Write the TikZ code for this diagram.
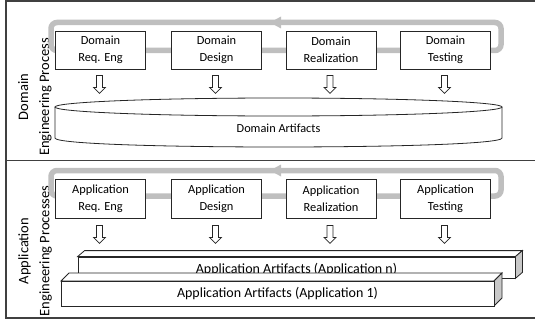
\documentclass[tikz,border=0pt]{standalone}
\usepackage{fontspec}
\setmainfont{Carlito}
\usetikzlibrary{calc}
\definecolor{loopgray}{HTML}{BFBFBF}
\definecolor{framec}{HTML}{404040}
\definecolor{sidegray}{HTML}{C8C8C8}
\begin{document}
\begin{tikzpicture}[x=1pt,y=-1pt,
 procbox/.style={draw=black!85, line width=0.8pt, fill=white, minimum width=90pt, minimum height=38pt, inner sep=0pt, align=center, font=\fontsize{12.4}{17}\selectfont},
 loopline/.style={draw=loopgray, line width=5.5pt, rounded corners=6pt},
 loophead/.style={fill=loopgray},
 frameline/.style={draw=framec, line width=1.1pt},
 sidelabel/.style={rotate=90, align=center, inner sep=0pt, font=\fontsize{14.5}{21}\selectfont},
 arrowline/.style={draw=black!85, line width=0.7pt, fill=white},
 boxline/.style={draw=black!85, line width=0.8pt},
 artface/.style={draw=black!85, line width=0.8pt, fill=white, inner sep=0pt, font=\fontsize{14}{16}\selectfont},
 arttext/.style={inner sep=0pt, font=\fontsize{14}{16}\selectfont},
 pics/downarrow/.style={code={\draw[arrowline] (-3,0) -- (-3,12) -- (-6,12) -- (0,18) -- (6,12) -- (3,12) -- (3,0) -- cycle;}}]

\useasboundingbox (0,0) rectangle (535,321);

% frame
\draw[frameline] (535,1) -- (6,1) -- (6,318) -- (535,318);
\draw[frameline] (6,160.5) -- (535,160.5);

% side labels
\node[sidelabel] (dlab) at (35,97) {Domain\\Engineering Process};
\node[sidelabel] (alab) at (35,251) {Application\\Engineering Processes};

% domain loop
\draw[loopline] (276,22.5) -- (51,22.5) -- (51,50.5) -- (501,50.5) -- (501,22.5) -- cycle;
\fill[loophead] (270,22.5) -- (281,16.5) -- (281,28.5) -- cycle;

% application loop
\draw[loopline] (276,170.5) -- (51,170.5) -- (51,196) -- (501,196) -- (501,170.5) -- cycle;
\fill[loophead] (270,170.5) -- (281,164.5) -- (281,176.5) -- cycle;

% domain process boxes
\node[procbox] (d1) at (100.5,50) {Domain\\Req. Eng};
\node[procbox] (d2) at (216.5,50) {Domain\\Design};
\node[procbox] (d3) at (331,50) {Domain\\Realization};
\node[procbox] (d4) at (445.5,50) {Domain\\Testing};

% application process boxes
\node[procbox, minimum height=39pt] (a1) at (100.5,198.5) {Application\\Req. Eng};
\node[procbox, minimum height=39pt] (a2) at (216.5,198.5) {Application\\Design};
\node[procbox, minimum height=39pt] (a3) at (331,198.5) {Application\\Realization};
\node[procbox, minimum height=39pt] (a4) at (445.5,198.5) {Application\\Testing};

% block arrows
\foreach \b in {d1,d2,d3,d4} {\path (\b.south) ++(-1,6) pic{downarrow};}
\foreach \b in {a1,a2,a3,a4} {\path (\b.south) ++(-1,7) pic{downarrow};}

% domain artifacts cylinder
\draw[boxline, fill=white] (55,107) -- (55,138) .. controls (55,150) and (502,150) .. (502,138) -- (502,107);
\draw[boxline, fill=white] (278.5,107) ellipse [x radius=223.5, y radius=9];
\node[font=\fontsize{12.3}{14}\selectfont] (dart) at (278.5,128) {Domain Artifacts};

% application artifacts (back box)
\node[artface, minimum width=437pt, minimum height=21pt] (artn) at (296.5,267.5) {};
\filldraw[boxline, fill=white] (artn.north west) -- ++(7,-6) -- ($(artn.north east)+(7,-6)$) -- (artn.north east) -- cycle;
\filldraw[boxline, fill=sidegray] (artn.north east) -- ++(7,-6) -- ($(artn.south east)+(7,-6)$) -- (artn.south east) -- cycle;
\node[arttext, anchor=base] (artntext) at (296.5,273.5) {Application Artifacts (Application n)};

% application artifacts (front box)
\filldraw[boxline, fill=white] (61,281) -- (69,273) -- (502,273) -- (494,281) -- cycle;
\filldraw[boxline, fill=sidegray] (494,281) -- (502,273) -- (502,298) -- (494,306) -- cycle;
\node[artface, minimum width=433pt, minimum height=25pt] (art1) at (277.5,293.5) {Application Artifacts (Application 1)};

\end{tikzpicture}
\end{document}
